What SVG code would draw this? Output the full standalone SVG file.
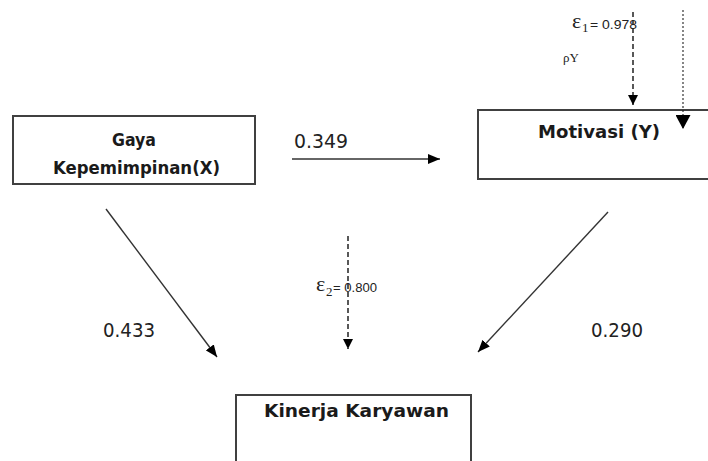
<svg xmlns="http://www.w3.org/2000/svg" width="708" height="461" viewBox="0 0 708 461">
<defs>
<marker id="ah" viewBox="0 0 12 10" refX="12" refY="5" markerWidth="12" markerHeight="10" markerUnits="userSpaceOnUse" orient="auto">
<path d="M0,0 L12,5 L0,10 Z" fill="#000"/>
</marker>
<marker id="ahs" viewBox="0 0 10 10" refX="10" refY="5" markerWidth="10" markerHeight="10" markerUnits="userSpaceOnUse" orient="auto">
<path d="M0,0 L10,5 L0,10 Z" fill="#000"/>
</marker>
<marker id="ahb" viewBox="0 0 14 15" refX="14" refY="7.5" markerWidth="14" markerHeight="15" markerUnits="userSpaceOnUse" orient="auto">
<path d="M0,0 L14,7.5 L0,15 Z" fill="#000"/>
</marker>
</defs>
<style>
.box{fill:#fff;stroke:#404040;stroke-width:2}
.nt{font-family:"DejaVu Sans",Verdana,sans-serif;font-weight:bold;font-size:17px;fill:#1a1a1a}
.lbl{font-family:"DejaVu Sans",Tahoma,sans-serif;font-size:19px;fill:#222}
.con{stroke:#333;stroke-width:1.4;fill:none}
.dash{stroke:#222;stroke-width:1.5;stroke-dasharray:5 3;fill:none}
.dot{stroke:#222;stroke-width:1.1;stroke-dasharray:2 2;fill:none}
.eps{font-family:"Liberation Serif","Times New Roman",serif;font-size:22px;fill:#222}
.sub{font-family:"Liberation Serif","Times New Roman",serif;font-size:13px;fill:#222}
.val{font-family:"Liberation Sans",Arial,sans-serif;font-size:12px;fill:#222}
</style>
<g id="node-x">
<rect class="box" x="13" y="116" width="242" height="68"/>
<text class="nt" x="112" y="146" textLength="44" lengthAdjust="spacingAndGlyphs">Gaya</text>
<text class="nt" x="53" y="174" textLength="167" lengthAdjust="spacingAndGlyphs">Kepemimpinan(X)</text>
</g>
<g id="node-y">
<rect class="box" x="478" y="110" width="240" height="69"/>
<text class="nt" x="538" y="138" textLength="122" lengthAdjust="spacingAndGlyphs">Motivasi (Y)</text>
</g>
<g id="node-z">
<rect class="box" x="236" y="395" width="235" height="80"/>
<text class="nt" x="264" y="417" textLength="185" lengthAdjust="spacingAndGlyphs">Kinerja Karyawan</text>
</g>
<g id="connectors">
<line class="con" x1="292" y1="159" x2="440" y2="159" marker-end="url(#ah)"/>
<line class="con" x1="106" y1="209" x2="217" y2="357" marker-end="url(#ah)"/>
<line class="con" x1="608" y1="212" x2="478" y2="352" marker-end="url(#ah)"/>
<line class="dash" x1="348" y1="236" x2="348" y2="349" marker-end="url(#ahs)"/>
<line class="dash" x1="633" y1="12" x2="633" y2="105" marker-end="url(#ahs)"/>
<line class="dot" x1="683" y1="10" x2="683" y2="129" marker-end="url(#ahb)"/>
</g>
<g id="labels">
<text class="lbl" x="294" y="148" textLength="54" lengthAdjust="spacingAndGlyphs">0.349</text>
<text class="lbl" x="103" y="337" textLength="52" lengthAdjust="spacingAndGlyphs">0.433</text>
<text class="lbl" x="591" y="337" textLength="52" lengthAdjust="spacingAndGlyphs">0.290</text>
<text class="eps" x="572" y="28">ε</text>
<text class="sub" x="582" y="32">1</text>
<text class="val" x="590" y="29" textLength="47" lengthAdjust="spacingAndGlyphs">= 0.978</text>
<text class="sub" x="563" y="62" font-size="14">ρY</text>
<text class="eps" x="316" y="291">ε</text>
<text class="sub" x="326" y="296">2</text>
<text class="val" x="333" y="292" textLength="44" lengthAdjust="spacingAndGlyphs">= 0.800</text>
</g>
</svg>
